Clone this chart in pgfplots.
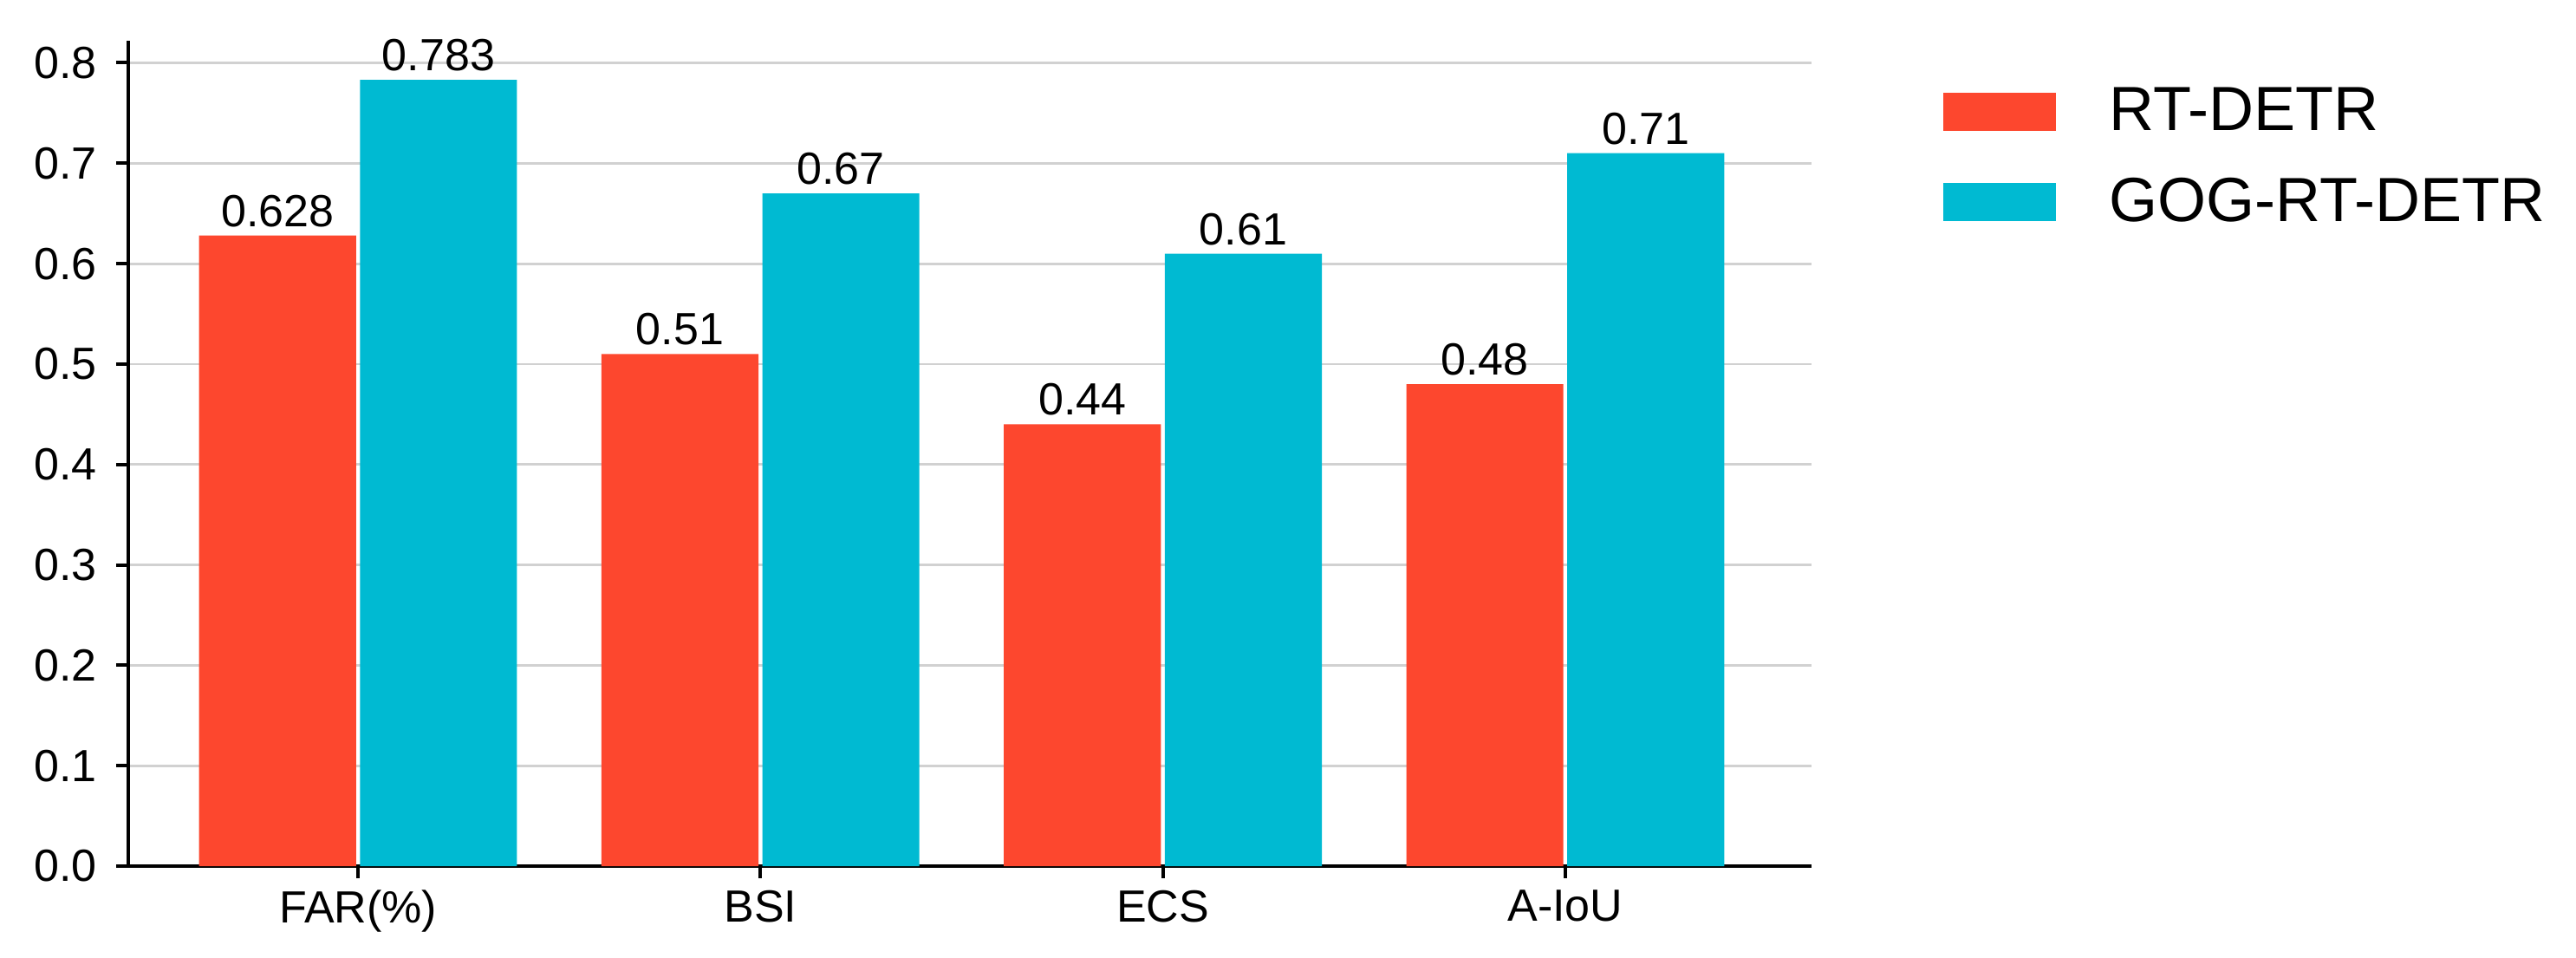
\documentclass[border=0pt]{standalone}
\usepackage{fontspec}
\setmainfont{Liberation Sans}
\usepackage{pgfplots}
\pgfplotsset{compat=1.18}
\definecolor{cred}{RGB}{253,71,46}
\definecolor{cteal}{RGB}{0,186,210}
\begin{document}
\begin{tikzpicture}
\useasboundingbox (0,0) rectangle (743pt,276pt);
\begin{axis}[
  at={(37pt,26.25pt)}, anchor=south west,
  width=485.5pt, height=238pt, scale only axis,
  xmin=-0.571, xmax=3.612, ymin=0, ymax=0.822,
  axis x line*=bottom, axis y line*=left,
  axis line style={line width=1pt, black},
  xtick={0,1,2,3}, xticklabels={FAR(\%),BSI,ECS,A-IoU},
  ytick={0,0.1,0.2,0.3,0.4,0.5,0.6,0.7,0.8},
  /pgf/number format/assume math mode=true,
  /pgf/number format/precision=3,
  yticklabel style={xshift=-2pt, /pgf/number format/.cd, fixed, fixed zerofill, precision=1},
  ticklabel style={font=\fontsize{13}{15}\selectfont},
  tick align=outside, major tick length=3.5pt,
  tick style={black, line width=1pt},
  ymajorgrids, major grid style={color=black!18, line width=0.7pt},
  ybar, bar width=0.39,
  nodes near coords,
  nodes near coords style={font=\fontsize{13}{15}\selectfont, inner sep=2.3pt, black},
  legend style={draw=none, fill=none, at={(1.078,0.943)}, anchor=north west,
    inner sep=0pt, outer sep=0pt, font=\fontsize{18}{21}\selectfont,
    row sep=12pt, nodes={inner sep=0pt},
    /tikz/every odd column/.append style={column sep=15.5pt}},
  legend cell align=left,
  legend image code/.code={\fill[#1] (0pt,-5.6pt) rectangle (32.5pt,5.6pt);},
]
\addplot[fill=cred, draw=none, bar shift=-0.2] coordinates {(0,0.628) (1,0.51) (2,0.44) (3,0.48)};
\addplot[fill=cteal, draw=none, bar shift=0.2] coordinates {(0,0.783) (1,0.67) (2,0.61) (3,0.71)};
\legend{RT-DETR, GOG-RT-DETR}
\end{axis}
\end{tikzpicture}
\end{document}
